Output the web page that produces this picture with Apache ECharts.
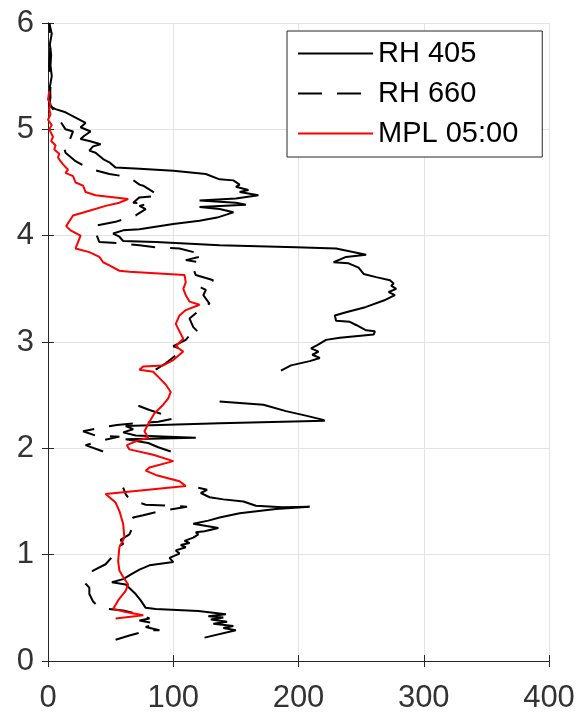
<!DOCTYPE html>
<html>
<head>
<meta charset="utf-8">
<script src="https://cdn.jsdelivr.net/npm/echarts@6/dist/echarts.min.js"></script>
<style>
html,body{margin:0;padding:0;background:#fff;}
#chart{width:581px;height:714px;}
</style>
</head>
<body>
<div id="chart"></div>
<script>
// x: value, y: altitude (km). null = gap in the record
var xTicks = [0, 100, 200, 300, 400];
var yTicks = [0, 1, 2, 3, 4, 5, 6];
var seriesNames = ['RH 405', 'RH 660', 'MPL 05:00'];

var rh405 = [
  [125,0.22],[150,0.29],[140,0.31],[148,0.33],[132,0.35],[143,0.37],[130,0.39],[140,0.41],[128,0.42],[142,0.44],[120,0.47],[86,0.49],[78,0.50],
  [74,0.57],[70,0.63],[62,0.72],[51,0.74],[60,0.77],[67,0.82],[73,0.86],[81,0.90],[100,0.93],[97,0.97],[105,1.01],[102,1.04],[110,1.07],[106,1.09],[113,1.11],[109,1.13],[116,1.16],[120,1.19],[118,1.21],[125,1.22],[136,1.25],[116,1.29],[128,1.32],[137,1.35],[153,1.39],[182,1.43],[209,1.45],[187,1.445],[166,1.46],[156,1.50],[140,1.52],[129,1.54],[122,1.58],[127,1.61],[120,1.63],
  null,
  [98,1.97],[88,2.01],[80,2.05],[62,2.085],[118,2.10],[70,2.12],[60,2.15],[68,2.18],[62,2.21],[137,2.235],[221,2.26],[219,2.27],[205,2.31],[190,2.35],[172,2.41],[137,2.44],
  null,
  [186,2.73],[194,2.78],[209,2.82],[217,2.85],[211,2.88],[216,2.91],[210,2.94],[215,2.97],[222,3.02],[233,3.04],[260,3.07],[261,3.10],[254,3.11],[246,3.16],[241,3.19],[230,3.20],[229,3.25],[238,3.28],[254,3.33],[268,3.39],[277,3.44],[272,3.47],[278,3.50],[274,3.53],[276,3.55],[273,3.58],[262,3.61],[252,3.64],[248,3.70],[240,3.74],[228,3.75],[238,3.80],[254,3.82],[230,3.88],[198,3.89],[137,3.91],[86,3.94],[60,3.95],[57,3.99],[52,4.02],[60,4.05],[73,4.06],[100,4.11],[121,4.14],[135,4.17],[143,4.20],[148,4.22],[137,4.25],[121,4.27],[158,4.29],[150,4.31],[121,4.33],[150,4.35],[168,4.38],[153,4.41],[160,4.43],[150,4.46],[153,4.48],[148,4.52],[137,4.53],[126,4.58],[100,4.61],[73,4.63],[54,4.64],[49,4.69],[44,4.72],[38,4.78],[33,4.80],[36,4.84],[42,4.86],[33,4.89],[26,4.91],[29,4.94],[34,4.98],[26,5.02],[30,5.06],[22,5.11],[14,5.16],[6,5.19],[1,5.22],[2,5.3],[1.5,5.4],[3,5.5],[2,5.6],[2.5,5.7],[1.5,5.8],[3,5.9],[1,6.0]
];

var rh660 = [
  [54,0.20],[65,0.24],[81,0.29],[89,0.29],[78,0.32],[87,0.35],[73,0.38],[81,0.40],[73,0.44],[60,0.475],[41,0.50],[36,0.56],[33,0.63],[33,0.69],[29,0.74],[31,0.79],[36,0.85],[46,0.91],[52,0.99],[55,1.07],[60,1.10],[58,1.14],[65,1.19],[68,1.27],[65,1.30],[68,1.35],[76,1.37],[86,1.40],[100,1.43],[111,1.45],[100,1.46],[78,1.47],[65,1.52],[62,1.57],[60,1.63],
  null,
  [44,1.97],[30,2.03],[45,2.08],[57,2.11],[38,2.12],[28,2.16],[40,2.19],[55,2.22],[75,2.24],[88,2.25],[100,2.28],[89,2.33],[81,2.36],[70,2.41],
  null,
  [86,2.74],[94,2.80],[108,2.93],[100,2.96],[105,2.99],[110,3.02],[113,3.06],[121,3.08],[116,3.14],[113,3.22],[118,3.27],[124,3.35],[129,3.36],[124,3.44],[126,3.49],[121,3.52],[132,3.58],[118,3.63],[116,3.69],[121,3.75],[110,3.77],[124,3.81],[118,3.84],[105,3.88],[86,3.89],[73,3.91],[55,3.93],[41,3.94],[36,4.09],[54,4.13],[70,4.19],[78,4.25],[73,4.28],[80,4.30],[68,4.31],[73,4.36],[89,4.375],[76,4.47],[73,4.48],[65,4.55],[49,4.58],[33,4.63],[22,4.70],[14,4.78],[12,4.86],[17,4.89],[20,4.98],[14,5.0],[9,5.09],[4,5.19],[1,5.25],[2,5.4],[1,5.6],[2,5.8],[1,6.0]
];

var mpl = [
  [54,0.40],[76,0.43],[62,0.46],[52,0.49],[56,0.57],[58,0.60],[62,0.66],[64,0.72],[60,0.79],[57,0.85],[56,0.94],[57,1.07],[61,1.16],[60,1.29],[57,1.41],[54,1.49],[49,1.54],[46,1.57],[110,1.645],[105,1.69],[86,1.75],[78,1.79],[81,1.82],[100,1.88],[84,1.94],[65,1.99],[63,2.03],[71,2.07],[80,2.10],[77,2.16],[81,2.25],[85,2.33],[92,2.41],[96,2.47],[98,2.53],[94,2.60],[89,2.66],[84,2.72],[73,2.74],[76,2.77],[92,2.78],[100,2.83],[108,2.91],[102,2.96],[108,3.03],[105,3.10],[102,3.17],[105,3.25],[110,3.30],[121,3.35],[113,3.38],[110,3.44],[108,3.50],[110,3.56],[109,3.63],[65,3.66],[57,3.67],[49,3.72],[44,3.75],[41,3.80],[33,3.845],[22,3.88],[25,3.97],[26,4.0],[18,4.05],[14.5,4.09],[20,4.19],[33,4.235],[46,4.28],[57,4.31],[64,4.345],[38,4.38],[30,4.41],[28,4.47],[22,4.50],[20,4.56],[14,4.59],[16,4.62],[12,4.67],[10,4.70],[8,4.735],[9,4.77],[5,4.81],[6,4.85],[2.5,4.89],[4,4.93],[1,5.0],[3,5.04],[0,5.09],[2,5.14],[1,5.19],[2,5.24],[0,5.28],[1,5.36]
];

function toData(arr){ return arr.map(function(p){ return p === null ? ['-','-'] : p; }); }

var chart = echarts.init(document.getElementById('chart'));
var font = '"Liberation Sans", Arial, Helvetica, sans-serif';
var axisCol = '#262626';
var option = {
  animation: false,
  backgroundColor: '#fff',
  grid: { left: 48, top: 23, width: 501, height: 641, show: false },
  legend: {
    orient: 'vertical', left: 287, top: 31,
    padding: [8, 24, 9, 10],
    itemWidth: 75, itemHeight: 14, itemGap: 11,
    backgroundColor: '#fff', borderColor: axisCol, borderWidth: 1,
    itemStyle: { opacity: 0, borderWidth: 0 },
    textStyle: { fontSize: 29, color: '#000', fontFamily: font },
    data: seriesNames
  },
  xAxis: [
    { type: 'value', min: xTicks[0], max: xTicks[xTicks.length-1], interval: 100, position: 'bottom',
      axisLine: { show: true, lineStyle: { color: axisCol, width: 1 } },
      axisTick: { show: true, inside: true, length: 6, lineStyle: { color: axisCol } },
      axisLabel: { fontSize: 31, color: '#333', fontFamily: font, margin: 22 },
      splitLine: { show: true, lineStyle: { color: '#e3e3e3', width: 1 } } },
    { type: 'value', min: xTicks[0], max: xTicks[xTicks.length-1], interval: 100, position: 'top',
      axisLine: { show: true, lineStyle: { color: axisCol, width: 1 } },
      axisTick: { show: true, inside: true, length: 6, lineStyle: { color: axisCol } },
      axisLabel: { show: false }, splitLine: { show: false } }
  ],
  yAxis: [
    { type: 'value', min: yTicks[0], max: yTicks[yTicks.length-1], interval: 1, position: 'left',
      axisLine: { show: true, lineStyle: { color: axisCol, width: 1 } },
      axisTick: { show: true, inside: true, length: 6, lineStyle: { color: axisCol } },
      axisLabel: { fontSize: 31, color: '#333', fontFamily: font, margin: 14 },
      splitLine: { show: true, lineStyle: { color: '#e3e3e3', width: 1 } } },
    { type: 'value', min: yTicks[0], max: yTicks[yTicks.length-1], interval: 1, position: 'right',
      axisLine: { show: true, lineStyle: { color: axisCol, width: 1 } },
      axisTick: { show: true, inside: true, length: 6, lineStyle: { color: axisCol } },
      axisLabel: { show: false }, splitLine: { show: false } }
  ],
  series: [
    { name: seriesNames[0], type: 'line', data: toData(rh405), symbol: 'none', showSymbol: false, connectNulls: false,
      lineStyle: { color: '#000', width: 2 }, itemStyle: { color: '#000' } },
    { name: seriesNames[1], type: 'line', data: toData(rh660), symbol: 'none', showSymbol: false, connectNulls: false,
      lineStyle: { color: '#000', width: 2, type: [24, 15] }, itemStyle: { color: '#000' } },
    { name: seriesNames[2], type: 'line', data: toData(mpl), symbol: 'none', showSymbol: false, connectNulls: false,
      lineStyle: { color: '#ff0000', width: 2 }, itemStyle: { color: '#ff0000' } }
  ]
};
chart.setOption(option);
</script>
</body>
</html>
